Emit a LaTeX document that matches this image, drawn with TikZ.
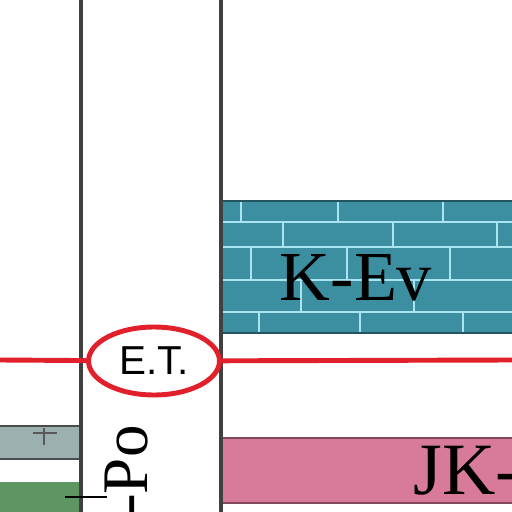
\documentclass[tikz,border=0pt]{standalone}
\usepackage{fontspec}
\setmainfont{Liberation Serif}
\newfontfamily\etfont{Liberation Sans}
\usetikzlibrary{shapes.geometric}
\definecolor{kevteal}{HTML}{3B8FA0}
\definecolor{brickline}{HTML}{A8E4F2}
\definecolor{jkpink}{HTML}{D87A9A}
\definecolor{pogray}{HTML}{9DB0B0}
\definecolor{pogreen}{HTML}{5E9663}
\definecolor{etred}{HTML}{E0202A}
\begin{document}
\begin{tikzpicture}[x=0.02cm,y=0.02cm]
  \useasboundingbox (0,0) rectangle (512,512);
  \clip (0,0) rectangle (512,512);
  % Left strata
  \fill[pogray] (0,53) rectangle (81,86);
  \draw[gray!60!black,line width=1pt] (0,86) -- (81,86) (0,53) -- (81,53);
  \draw[gray!70!black,line width=0.6pt] (33,79) -- (57,79) (44,84) -- (44,67);
  \fill[pogreen] (0,0) rectangle (81,30);
  % K-Ev block with bricks
  \fill[kevteal] (221,179) rectangle (512,311);
  \draw[brickline,line width=1.1pt] (221,290) -- (512,290) (221,265) -- (512,265)
    (221,232) -- (512,232) (221,200) -- (512,200);
  \foreach \x in {241,338,443} \draw[brickline,line width=1.1pt] (\x,290) -- (\x,311);
  \foreach \x in {283,393,497} \draw[brickline,line width=1.1pt] (\x,265) -- (\x,290);
  \foreach \x in {251,347,450} \draw[brickline,line width=1.1pt] (\x,232) -- (\x,265);
  \foreach \x in {301,414} \draw[brickline,line width=1.1pt] (\x,200) -- (\x,232);
  \foreach \x in {259,360,463} \draw[brickline,line width=1.1pt] (\x,179) -- (\x,200);
  \draw[kevteal!60!black,line width=0.8pt] (221,311) -- (512,311) (221,179) -- (512,179);
  \node[anchor=base,font=\fontsize{40}{40}\selectfont] (kev) at (356,212) {K-Ev};
  % JK block
  \fill[jkpink] (221,9) rectangle (512,74);
  \draw[jkpink!60!black,line width=0.8pt] (221,74) -- (512,74) (221,9) -- (512,9);
  \node[anchor=base west,inner sep=0pt,font=\fontsize{42}{42}\selectfont] (jk) at (413,17) {JK-C};
  % Well column
  \draw[black!75,line width=1.8pt] (81,0) -- (81,512) (221,0) -- (221,512);
  \node[rotate=90,anchor=base east,inner sep=0pt,font=\fontsize{37}{37}\selectfont] (po) at (148,87) {-Po};
  \coordinate (tickL) at (65,15);
  \coordinate (tickR) at (107,15);
  \draw[line width=1pt] (tickL) -- (tickR);
  % Red marker line and E.T.
  \node[ellipse,draw=etred,fill=white,line width=2.8pt,
    minimum width=2.62cm,minimum height=1.36cm,inner sep=0pt,
    font=\etfont\fontsize{23}{23}\selectfont] (et) at (154,151) {E.T.};
  \coordinate (lineL) at (0,152);
  \coordinate (lineR) at (512,152);
  \draw[etred,line width=2.8pt] (lineL) -- (et);
  \draw[etred,line width=2.8pt] (et) -- (lineR);
\end{tikzpicture}
\end{document}
